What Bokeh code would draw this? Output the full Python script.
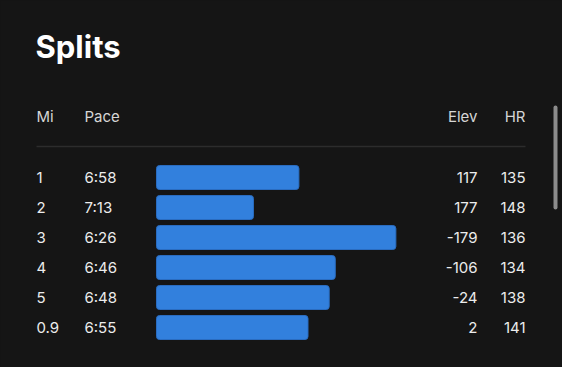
from bokeh.plotting import figure
from bokeh.models import Range1d, ColumnDataSource, GlobalInlineStyleSheet
from bokeh.core.properties import value
from bokeh.embed import file_html
from bokeh.resources import INLINE

# ---- data ----
miles = ["1", "2", "3", "4", "5", "0.9"]
paces = ["6:58", "7:13", "6:26", "6:46", "6:48", "6:55"]
pace_seconds = [418, 433, 386, 406, 408, 415]
elev = [117, 177, -179, -106, -24, 2]
hr = [135, 148, 136, 134, 138, 141]
headers = ["Mi", "Pace", "Elev", "HR"]
title = "Splits"

BG = "#151515"
W, H = 562, 367
FONT = value("Inter")

rows = list(range(len(miles)))
src = ColumnDataSource(dict(
    row=rows, mi=miles, pace=paces, secs=pace_seconds,
    elev=[str(v) for v in elev], hr=[str(v) for v in hr],
    base=[465] * len(rows),
))

p = figure(width=W, height=H, output_backend="svg", toolbar_location=None,
           x_range=Range1d(0, W), y_range=Range1d(H, 0),
           min_border=0, min_border_left=0, min_border_right=0,
           min_border_top=0, min_border_bottom=0)
p.xaxis.visible = False
p.yaxis.visible = False
p.grid.visible = False
p.outline_line_color = None
p.background_fill_color = BG
p.border_fill_color = BG
p.stylesheets.append(GlobalInlineStyleSheet(css=f"body{{background:{BG};}}"))

# pace scale (seconds) for bars, row scale for table lines
PX_PER_SEC = 3.03
BAR_X0, BASE_SEC = 156, 465
p.extra_x_ranges = {"pace": Range1d(BASE_SEC + BAR_X0 / PX_PER_SEC,
                                    BASE_SEC - (W - BAR_X0) / PX_PER_SEC)}
ROW0, ROW_H = 177, 30
p.extra_y_ranges = {"rows": Range1d((H - ROW0) / ROW_H, -ROW0 / ROW_H)}

# title
p.text(x=[35], y=[46], text=[title], text_font=FONT, text_font_size="31px",
       text_font_style="bold", text_color="#ffffff", text_baseline="middle")

# headers
hdr_x = [36, 84, 477, 525]
hdr_align = ["left", "left", "right", "right"]
p.text(x=hdr_x, y=[116] * 4, text=headers, text_font=FONT, text_font_size="15px",
       text_color="#d6d6d6", text_align=hdr_align, text_baseline="middle")

# separator
p.segment(x0=[36], y0=[146], x1=[525], y1=[146], line_color="#2c2c2c", line_width=1.5)

# bars
p.hbar(y="row", left="base", right="secs", height=0.8, source=src,
       x_range_name="pace", y_range_name="rows",
       fill_color="#3280dd", line_color="#2a6cc0", line_width=1, border_radius=3)

# row texts
common = dict(source=src, y_range_name="rows", text_font=FONT, text_font_size="15px",
              text_color="#ececec", text_baseline="middle")
p.text(x=36, y="row", text="mi", text_align="left", **common)
p.text(x=84, y="row", text="pace", text_align="left", **common)
p.text(x=477, y="row", text="elev", text_align="right", **common)
p.text(x=525, y="row", text="hr", text_align="right", **common)

# scrollbar
p.rect(x=[555], y=[157], width=4, height=104, fill_color="#8c8c8c",
       line_color=None, border_radius=2)

open("out.html", "w").write(file_html(p, INLINE))
